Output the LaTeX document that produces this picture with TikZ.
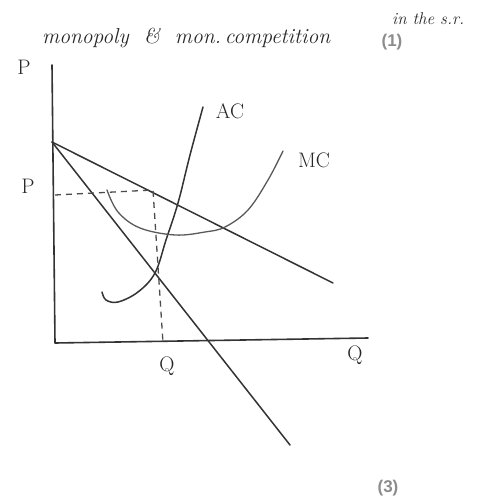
\documentclass[tikz,border=0pt]{standalone}
\usepackage{fontspec}
\newfontfamily\labelfont{Liberation Sans}
\begin{document}
\begin{tikzpicture}[x=1pt,y=-1pt,
  ink/.style={draw=black!80,line width=1.6pt,line cap=round,line join=round},
  guide/.style={draw=black!70,line width=1.3pt,dash pattern=on 6pt off 5pt},
  hand/.style={text=black!85,font=\fontsize{21}{23}\selectfont,inner sep=0pt},
  tag/.style={text=black!45,font=\labelfont\bfseries\fontsize{17}{19}\selectfont,inner sep=0pt}]
\useasboundingbox (0,0) rectangle (491,502);
% axes
\coordinate (top) at (52,65);
\coordinate (origin) at (55,343);
\coordinate (qend) at (368,338);
\draw[ink] (top) -- (origin) -- (qend);
% demand and MR
\coordinate (pint) at (52,142);
\coordinate (dend) at (333,283);
\coordinate (mrend) at (290,445);
\draw[ink,line width=1.5pt] (pint) -- (dend);
\draw[ink,line width=1.5pt] (pint) -- (mrend);
% dashed guides
\coordinate (pleft) at (55,195);
\coordinate (dpt) at (153,190);
\coordinate (qpt) at (163,343);
\draw[guide] (pleft) -- (dpt) -- (qpt);
% steep curve (AC label)
\draw[ink,line width=1.5pt] plot[smooth,tension=0.6] coordinates
  {(102,292) (106,300) (118,302) (138,292) (155,273) (166,240) (178,203) (190,155) (203,107)};
% U curve (MC label)
\draw[ink,line width=1.3pt,draw=black!65] plot[smooth,tension=0.6] coordinates
  {(107,190) (118,212) (140,228) (175,235) (205,232) (225,227) (248,210) (268,180) (283,151)};
% labels
\node[hand] (plab) at (24,67) {P};
\node[hand] (plab2) at (28,186) {P};
\node[hand] (qlab) at (167,366) {Q};
\node[hand] (qaxis) at (355,355) {Q};
\node[hand] (ac) at (230,111) {AC};
\node[hand] (mc) at (314,160) {MC};
\node[hand,anchor=west,font=\itshape\fontsize{21.5}{23}\selectfont] (title) at (42,38) {monopoly \ \& \ mon.\,competition};
\node[hand,anchor=west,font=\itshape\fontsize{17}{19}\selectfont] (sr) at (392,19) {in the s.r.};
\node[tag] (one) at (392,42) {(1)};
\node[tag] (three) at (388,488) {(3)};
\end{tikzpicture}
\end{document}
